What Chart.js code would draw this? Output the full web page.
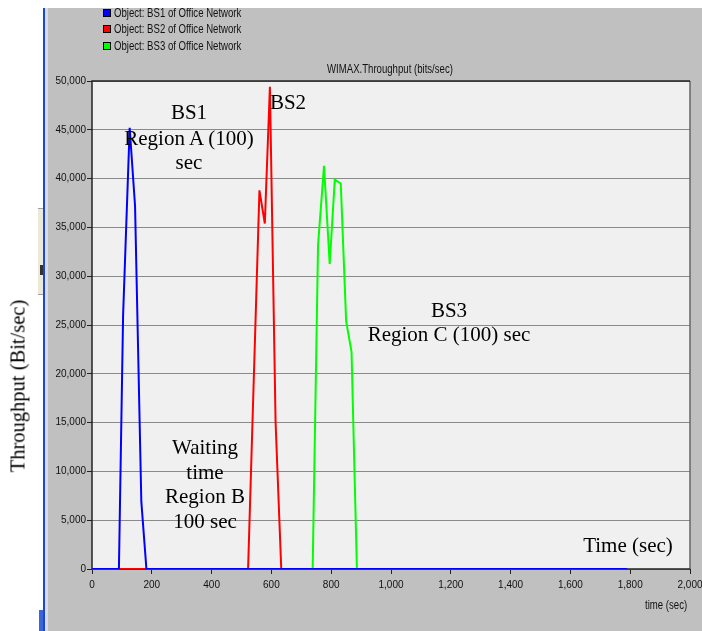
<!DOCTYPE html>
<html>
<head>
<meta charset="utf-8">
<script src="https://cdn.jsdelivr.net/npm/chart.js@4/dist/chart.umd.min.js"></script>
<style>
  html, body { margin: 0; padding: 0; background: #ffffff; }
  body { width: 702px; height: 631px; position: relative; overflow: hidden; }
  #panel { position: absolute; left: 48px; top: 8px; width: 654px; height: 623px; background: #c0c0c0; }
  #bluebar { position: absolute; left: 43px; top: 8px; width: 2px; height: 623px; background: #1846e0; }
  #lightbar { position: absolute; left: 45px; top: 8px; width: 3px; height: 623px; background: #dcdcdc; }
  #bluefoot { position: absolute; left: 39px; top: 610px; width: 4px; height: 21px; background: #3a66d8; }
  #artifact { position: absolute; left: 38px; top: 208px; width: 5px; height: 87px; background: #ece9d8; border-top: 1px solid #a0a0a0; border-bottom: 1px solid #a0a0a0; box-sizing: border-box; }
  #artmark { position: absolute; left: 40px; top: 265px; width: 3px; height: 10px; background: #333; }
  canvas { position: absolute; left: 0; top: 0; }
  .narrow { font-family: "Liberation Sans", Arial, sans-serif; font-size: 12px; color: #111; white-space: nowrap; transform-origin: 0 50%; }
  .lg { position: absolute; left: 114px; height: 16px; line-height: 16px; transform: scaleX(0.8); }
  .box { position: absolute; left: 103px; width: 6px; height: 6px; border: 1px solid #000; }
  .ann { position: absolute; font: 21px "Liberation Serif", "Times New Roman", serif; color: #000; text-align: center; white-space: nowrap; height: 25px; line-height: 25px; transform: translateX(-50%); }
  #title { position: absolute; left: 327px; top: 62px; transform: scaleX(0.8); }
  #xtitle { position: absolute; left: 645px; top: 598px; transform: scaleX(0.8); }
  #ylab { position: absolute; left: 18px; top: 386px; transform: translate(-50%, -50%) rotate(-90deg); font: 20.5px "Liberation Serif", "Times New Roman", serif; color: #000; white-space: nowrap; }
</style>
</head>
<body>
<div id="panel"></div>
<div id="lightbar"></div>
<div id="bluebar"></div>
<div id="bluefoot"></div>
<div id="artifact"></div>
<div id="artmark"></div>
<canvas id="c" width="702" height="631"></canvas>

<div class="box" style="top:9px; background:#0000ff"></div>
<div class="box" style="top:25px; background:#ff0000"></div>
<div class="box" style="top:42px; background:#00ff00"></div>
<div class="narrow lg" style="top:5px">Object: BS1 of Office Network</div>
<div class="narrow lg" style="top:21px">Object: BS2 of Office Network</div>
<div class="narrow lg" style="top:38px">Object: BS3 of Office Network</div>

<div id="title" class="narrow">WIMAX.Throughput (bits/sec)</div>
<div id="xtitle" class="narrow">time (sec)</div>
<div id="ylab">Throughput (Bit/sec)</div>

<div class="ann" style="left:189px; top:100px">BS1</div>
<div class="ann" style="left:189px; top:126px">Region A (100)</div>
<div class="ann" style="left:189px; top:150px">sec</div>
<div class="ann" style="left:288px; top:90px">BS2</div>
<div class="ann" style="left:449px; top:298px">BS3</div>
<div class="ann" style="left:449px; top:322px">Region C (100) sec</div>
<div class="ann" style="left:205px; top:435px">Waiting</div>
<div class="ann" style="left:205px; top:460px">time</div>
<div class="ann" style="left:205px; top:484px">Region B</div>
<div class="ann" style="left:205px; top:509px">100 sec</div>
<div class="ann" style="left:628px; top:533px">Time (sec)</div>

<script>
// ---- Data ----
const bs1Time   = [0, 90, 104, 126, 144, 165, 182, 1790];
const bs1Values = [0, 0, 26000, 45200, 37200, 6900, 0, 0];

const bs2Time   = [0, 522, 560, 578, 595, 614, 633, 1790];
const bs2Values = [0, 0, 38800, 35400, 49400, 15000, 0, 0];

const bs3Time   = [0, 738, 756, 776, 795, 812, 832, 850, 868, 886, 1790];
const bs3Values = [0, 0, 33200, 41300, 31250, 39900, 39500, 25400, 22250, 0, 0];

const seriesNames = ["BS1 of Office Network", "BS2 of Office Network", "BS3 of Office Network"];
const xTicks = [0, 200, 400, 600, 800, 1000, 1200, 1400, 1600, 1800, 2000];
const yTicks = [0, 5000, 10000, 15000, 20000, 25000, 30000, 35000, 40000, 45000, 50000];

function pts(t, v) { return t.map((x, i) => ({ x: x, y: v[i] })); }

const tickFont = { family: '"Liberation Sans", Arial, sans-serif', size: 10 };

const framePlugin = {
  id: 'frame',
  beforeDraw(chart) {
    const a = chart.chartArea, ctx = chart.ctx;
    ctx.save();
    ctx.fillStyle = '#f0f0f0';
    ctx.fillRect(a.left, a.top, a.right - a.left, a.bottom - a.top);
    ctx.restore();
  },
  beforeDatasetsDraw(chart) {
    const a = chart.chartArea, ctx = chart.ctx;
    ctx.save();
    ctx.lineWidth = 1.5;
    ctx.strokeStyle = '#666666';
    ctx.beginPath(); ctx.moveTo(a.right, a.top); ctx.lineTo(a.right, a.bottom); ctx.stroke();
    ctx.strokeStyle = '#222222';
    ctx.beginPath();
    ctx.moveTo(a.left, a.bottom); ctx.lineTo(a.left, a.top); ctx.lineTo(a.right, a.top);
    ctx.stroke();
    ctx.beginPath(); ctx.moveTo(a.left, a.bottom); ctx.lineTo(a.right, a.bottom); ctx.stroke();
    ctx.restore();
  }
};

new Chart(document.getElementById('c'), {
  type: 'line',
  data: {
    datasets: [
      { label: seriesNames[0], data: pts(bs1Time, bs1Values), borderColor: '#0000ff', backgroundColor: '#0000ff' },
      { label: seriesNames[1], data: pts(bs2Time, bs2Values), borderColor: '#ff0000', backgroundColor: '#ff0000' },
      { label: seriesNames[2], data: pts(bs3Time, bs3Values), borderColor: '#00ff00', backgroundColor: '#00ff00' }
    ]
  },
  options: {
    responsive: false,
    animation: false,
    devicePixelRatio: 1,
    elements: {
      line: { borderWidth: 2, tension: 0 },
      point: { radius: 0, hoverRadius: 0 }
    },
    layout: { padding: { top: 81, right: 12, bottom: 0, left: 0 } },
    plugins: {
      legend: { display: false },
      tooltip: { enabled: false },
      title: { display: false }
    },
    scales: {
      x: {
        type: 'linear',
        min: 0, max: 2000,
        afterBuildTicks(scale) { scale.ticks = xTicks.map(v => ({ value: v })); },
        afterFit(scale) { scale.height = 62; scale.paddingLeft = 0; scale.paddingRight = 0; },
        ticks: {
          font: tickFont, color: '#111', padding: 5, maxRotation: 0, autoSkip: false,
          callback: v => Number(v).toLocaleString('en-US')
        },
        grid: { display: true, drawOnChartArea: false, drawTicks: true, tickLength: 5, tickColor: '#222', color: '#222' },
        border: { display: false }
      },
      y: {
        type: 'linear',
        min: 0, max: 50000,
        afterBuildTicks(scale) { scale.ticks = yTicks.map(v => ({ value: v })); },
        afterFit(scale) { scale.width = 92; },
        ticks: {
          font: tickFont, color: '#111', padding: 1,
          callback: v => Number(v).toLocaleString('en-US')
        },
        grid: { color: '#8a8a8a', lineWidth: 1, drawTicks: true, tickLength: 5, tickColor: '#222' },
        border: { display: false }
      }
    }
  },
  plugins: [framePlugin]
});
</script>
</body>
</html>
